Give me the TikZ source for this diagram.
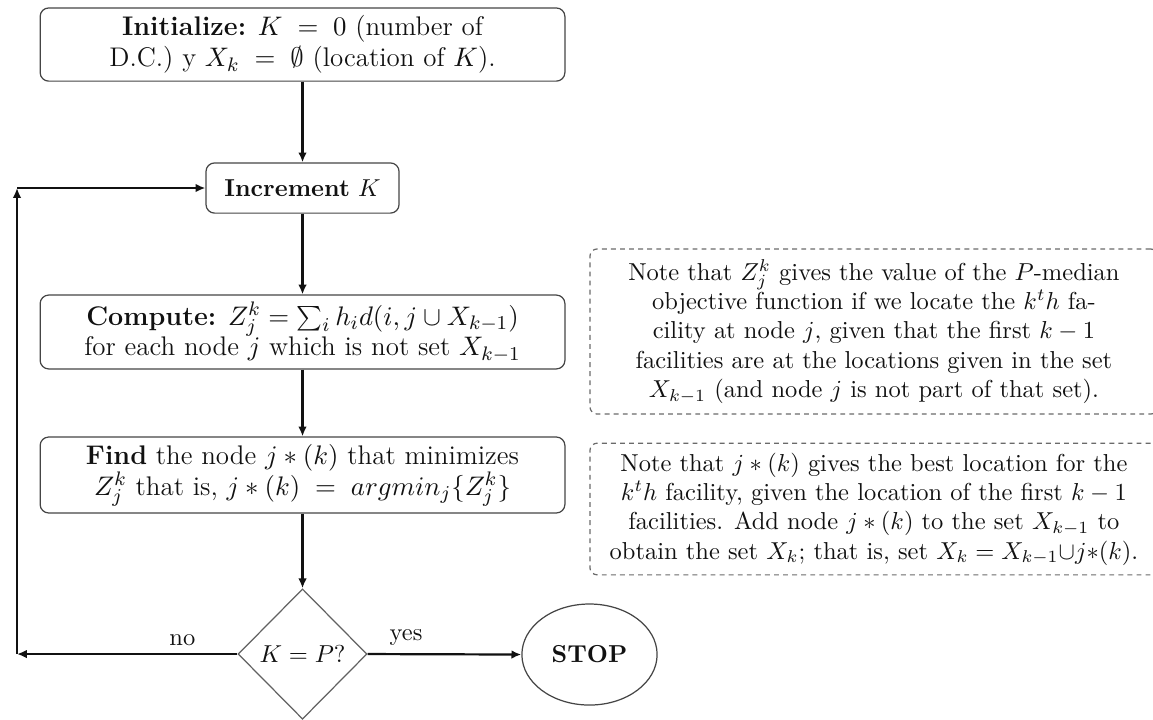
\documentclass[tikz,border=0pt]{standalone}
\usepackage{tikz}
\usetikzlibrary{arrows.meta}
\usetikzlibrary{shapes.geometric}
\definecolor{pmink}{HTML}{111111}
\definecolor{pmedge}{HTML}{454545}
\definecolor{pmdash}{HTML}{6A6A6A}
\tikzset{
  pmstep/.style={
    draw=pmedge, rounded corners=3.5pt, line width=0.5pt,
    align=center, inner sep=2pt, text=pmink},
  pmwide/.style={
    pmstep, minimum width=7.53cm, font=\fontsize{11}{12.6}\selectfont},
  pmnote/.style={
    draw=pmdash, dash pattern=on 2pt off 1.7pt, rounded corners=3pt,
    line width=0.5pt, align=center, inner sep=2pt, text=pmink,
    minimum width=8.15cm},
  pmdecide/.style={
    diamond, draw=pmedge!85, line width=0.5pt, aspect=1, inner sep=0pt,
    minimum width=1.85cm, minimum height=1.87cm, text=pmink},
  pmstop/.style={
    ellipse, draw=pmedge, line width=0.5pt,
    minimum width=1.94cm, minimum height=1.45cm, text=pmink},
  pmarrow/.style={-{Latex[length=4pt, width=3.5pt]}, draw=pmink,
    line width=0.9pt},
  pmlabel/.style={above, text=pmink, inner sep=3pt},
}

\begin{document}
\begin{tikzpicture}[x=1cm, y=1cm]

\useasboundingbox (0, 0) rectangle (16.545, -10.318);

% ------------------------------------------------------------ steps
\node[pmwide, minimum height=1.05cm] (init) at (4.341, -0.639)
  {\textbf{Initialize:} $K \;=\; 0$ (number of\\
   D.C.) y $X_k \;=\; \emptyset$ (location of $K$).};
\node[pmstep, minimum width=2.77cm, minimum height=0.72cm] (incr)
  at (4.341, -2.698) {\textbf{Increment} $K$};
\node[pmwide, minimum height=1.06cm] (comp) at (4.341, -4.764)
  {\textbf{Compute:} $Z_j^k = \sum_i h_i d(i, j \cup X_{k-1})$\\
   for each node $j$ which is not set $X_{k-1}$};
\node[pmwide, minimum height=1.09cm] (find) at (4.341, -6.816)
  {\textbf{Find} the node $j*(k)$ that minimizes\\
   $Z_j^k$ that is, $j*(k) \;=\; argmin_j\{Z_j^k\}$};
\node[pmdecide] (decide) at (4.341, -9.385) {$K = P?$};
\node[pmstop] (stop) at (8.459, -9.392) {\textbf{STOP}};

% ------------------------------------------------------------ notes
\node[pmnote, minimum height=2.37cm] (noteZ) at (12.54, -4.757)
  {Note that $Z_j^k$ gives the value of the $P$-median\\
   objective function if we locate the $k^th$ fa-\\
   cility at node $j$, given that the first $k-1$\\
   facilities are at the locations given in the set\\
   $X_{k-1}$ (and node $j$ is not part of that set).};
\node[pmnote, minimum height=1.89cm] (noteJ) at (12.54, -7.304)
  {Note that $j*(k)$ gives the best location for the\\
   $k^th$ facility, given the location of the first $k-1$\\
   facilities. Add node $j*(k)$ to the set $X_{k-1}$ to\\
   obtain the set $X_k$; that is, set $X_k = X_{k-1}{\cup}j{*}(k)$.};

% ------------------------------------------------------------ flow
\draw[pmarrow] (init) -- (incr);
\draw[pmarrow] (incr) -- (comp);
\draw[pmarrow] (comp) -- (find);
\draw[pmarrow] (find) -- (decide);
\draw[pmarrow] (decide.east) -- node[pmlabel, pos=0.25] (lyes) {yes}
  (stop.west);

% loop back to the increment step
\coordinate (loopdown) at (0.244, -9.385);
\coordinate (loopup) at (0.244, -2.698);
\draw[pmarrow] (decide.west) -- node[pmlabel, pos=0.25] (lno) {no}
  (loopdown);
\draw[pmarrow] (loopdown) -- (loopup);
\draw[pmarrow] (loopup) -- (incr.west);

\end{tikzpicture}
\end{document}
